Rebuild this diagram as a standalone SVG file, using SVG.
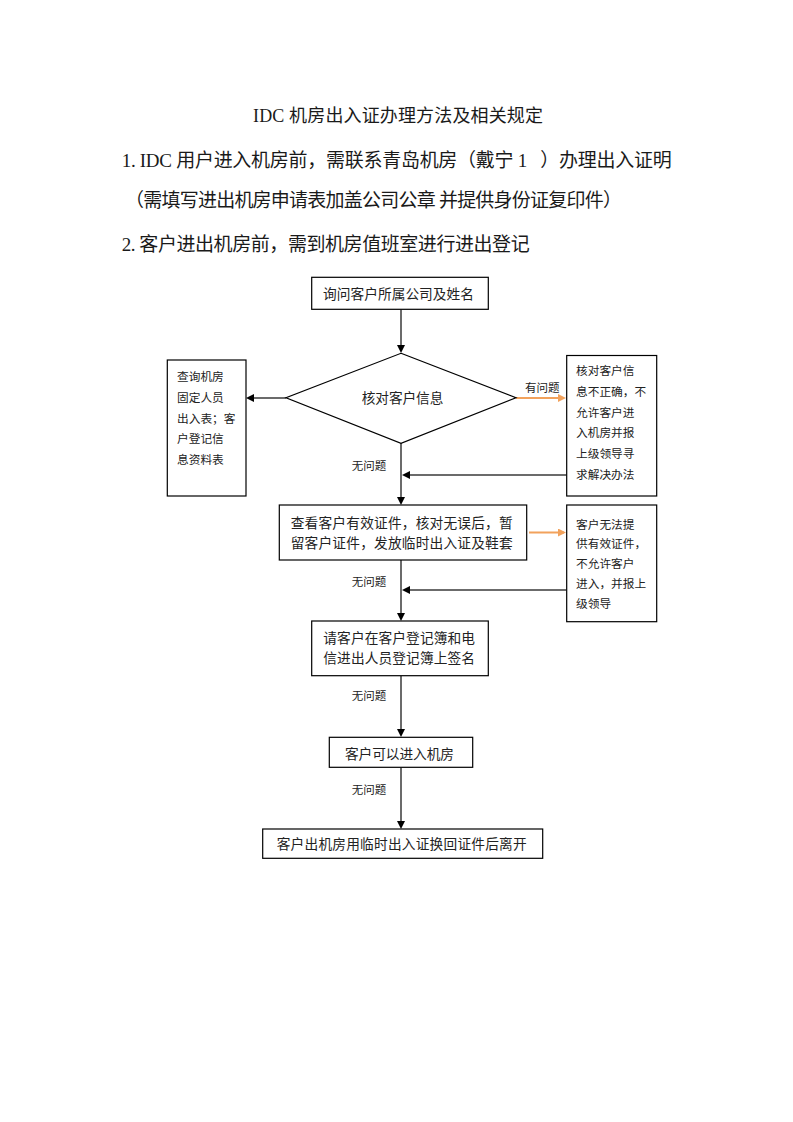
<svg xmlns="http://www.w3.org/2000/svg" width="793" height="1122" viewBox="0 0 793 1122">
<style>
text{font-family:"Liberation Serif","Noto Sans CJK SC",serif;fill:#1a1a1a}
.f{font-family:"Noto Sans CJK SC","Liberation Sans",sans-serif;fill:#222}
.hd{font-size:19px}
.t{font-size:18px}
.m{font-size:13.7px}
.s{font-size:11.7px}
.l{font-size:11.5px}
.box{fill:#fff;stroke:#000;stroke-width:1.2}
.c{fill:none;stroke:#6b6b6b;stroke-width:2}
.o{fill:none;stroke:#f2a25c;stroke-width:2}
</style>
<defs>
<marker id="ab" viewBox="0 0 8 8" refX="6" refY="4" markerWidth="8" markerHeight="8" markerUnits="userSpaceOnUse" orient="auto"><path d="M0,0 L8,4 L0,8 z" fill="#000"/></marker>
<marker id="ao" viewBox="0 0 8 8" refX="6" refY="4" markerWidth="8" markerHeight="8" markerUnits="userSpaceOnUse" orient="auto"><path d="M0,0 L8,4 L0,8 z" fill="#f2a25c"/></marker>
</defs>
<rect width="793" height="1122" fill="#fff"/>
<g id="header">
<text class="t" x="253" y="122" textLength="290" lengthAdjust="spacing">IDC 机房出入证办理方法及相关规定</text>
<text class="hd" x="121.7" y="166.5" textLength="550" lengthAdjust="spacing" xml:space="preserve">1. IDC 用户进入机房前，需联系青岛机房（戴宁 1   ）办理出入证明</text>
<text class="hd" x="125" y="206.5" textLength="497" lengthAdjust="spacing" xml:space="preserve">（需填写进出机房申请表加盖公司公章 并提供身份证复印件）</text>
<text class="hd" x="121.7" y="251" textLength="408" lengthAdjust="spacing">2. 客户进出机房前，需到机房值班室进行进出登记</text>
</g>
<g id="connectors">
<line class="c" x1="401" y1="309.5" x2="401" y2="351" marker-end="url(#ab)"/>
<line class="c" x1="286" y1="398" x2="248" y2="398" marker-end="url(#ab)"/>
<line class="o" x1="516" y1="398" x2="564" y2="398" marker-end="url(#ao)"/>
<line class="c" x1="401" y1="443" x2="401" y2="503" marker-end="url(#ab)"/>
<line class="c" x1="566.5" y1="475" x2="404" y2="475" marker-end="url(#ab)"/>
<line class="o" x1="529" y1="532.5" x2="564" y2="532.5" marker-end="url(#ao)"/>
<line class="c" x1="401" y1="560" x2="401" y2="619" marker-end="url(#ab)"/>
<line class="c" x1="566.5" y1="590" x2="404" y2="590" marker-end="url(#ab)"/>
<line class="c" x1="401" y1="676" x2="401" y2="735" marker-end="url(#ab)"/>
<line class="c" x1="401" y1="767.5" x2="401" y2="827" marker-end="url(#ab)"/>
<text class="f l" x="351.7" y="470.4">无问题</text>
<text class="f l" x="525" y="392">有问题</text>
<text class="f l" x="351.7" y="586.1">无问题</text>
<text class="f l" x="351.7" y="700.4">无问题</text>
<text class="f l" x="351.7" y="794.4">无问题</text>
</g>
<g id="n1">
<rect class="box" x="311.7" y="277.3" width="176.6" height="32"/>
<text class="f m" x="323" y="299.2" textLength="151" lengthAdjust="spacing">询问客户所属公司及姓名</text>
</g>
<g id="n2">
<polygon class="box" points="401,353.3 516,397.8 401,443.3 286,397.8"/>
<text class="f m" x="361.7" y="402.9" textLength="81.7" lengthAdjust="spacing">核对客户信息</text>
</g>
<g id="n3">
<rect class="box" x="167.3" y="360" width="78.7" height="136"/>
<text class="f s" x="177" y="381.2">查询机房</text>
<text class="f s" x="177" y="401.9">固定人员</text>
<text class="f s" x="177" y="422.6">出入表；客</text>
<text class="f s" x="177" y="443.3">户登记信</text>
<text class="f s" x="177" y="464">息资料表</text>
</g>
<g id="n4">
<rect class="box" x="566.7" y="355.5" width="90" height="140.5"/>
<text class="f s" x="576" y="375.2">核对客户信</text>
<text class="f s" x="576" y="396">息不正确，不</text>
<text class="f s" x="576" y="416.7">允许客户进</text>
<text class="f s" x="576" y="437.4">入机房并报</text>
<text class="f s" x="576" y="458.1">上级领导寻</text>
<text class="f s" x="576" y="478.8">求解决办法</text>
</g>
<g id="n5">
<rect class="box" x="279.3" y="505" width="247.4" height="55"/>
<text class="f m" x="290.7" y="527.6" textLength="222" lengthAdjust="spacing">查看客户有效证件，核对无误后，暂</text>
<text class="f m" x="290.7" y="547.6" textLength="222" lengthAdjust="spacing">留客户证件，发放临时出入证及鞋套</text>
</g>
<g id="n6">
<rect class="box" x="566.7" y="505" width="90" height="116.7"/>
<text class="f s" x="576" y="528.5">客户无法提</text>
<text class="f s" x="576" y="548.3">供有效证件，</text>
<text class="f s" x="576" y="568.1">不允许客户</text>
<text class="f s" x="576" y="587.9">进入，并报上</text>
<text class="f s" x="576" y="607.7">级领导</text>
</g>
<g id="n7">
<rect class="box" x="311.7" y="621" width="176.6" height="54.7"/>
<text class="f m" x="323.3" y="643" textLength="151.7" lengthAdjust="spacing">请客户在客户登记簿和电</text>
<text class="f m" x="323.3" y="663" textLength="151.7" lengthAdjust="spacing">信进出人员登记簿上签名</text>
</g>
<g id="n8">
<rect class="box" x="329.3" y="737.3" width="143.4" height="30"/>
<text class="f m" x="345" y="759.2" textLength="109" lengthAdjust="spacing">客户可以进入机房</text>
</g>
<g id="n9">
<rect class="box" x="262.7" y="829" width="280" height="29.3"/>
<text class="f m" x="276.7" y="848.6" textLength="250" lengthAdjust="spacing">客户出机房用临时出入证换回证件后离开</text>
</g>
</svg>
